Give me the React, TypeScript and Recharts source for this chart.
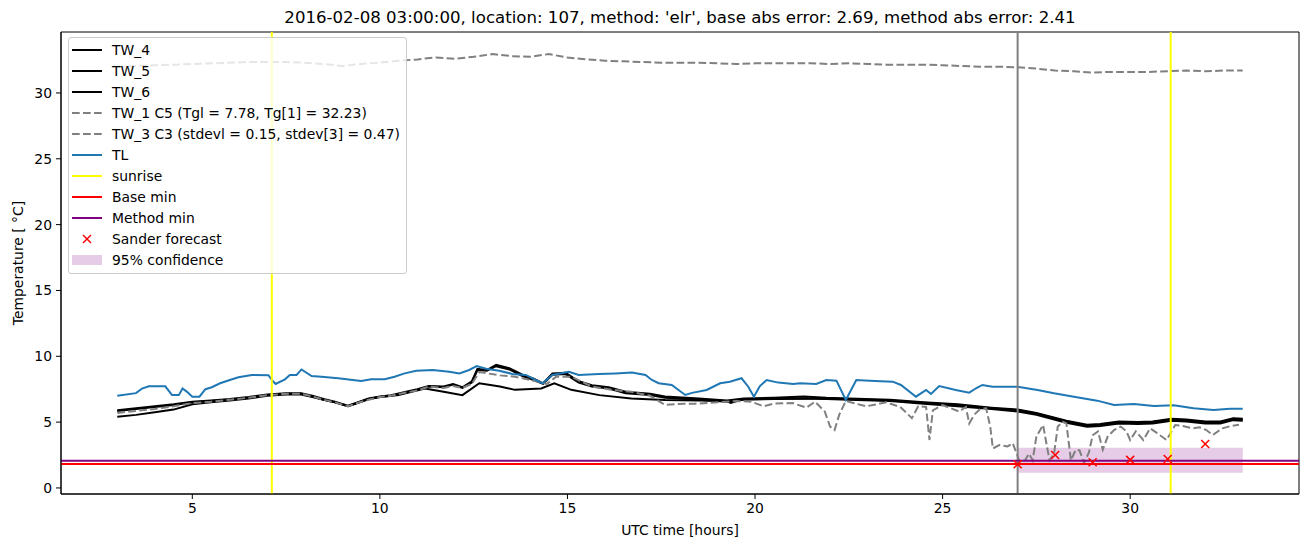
import React from "react";
import {
    ComposedChart, Line, Scatter, XAxis, YAxis,
    ReferenceLine, ReferenceArea, Legend, Label
} from "recharts";

type P = [number, number];

// [hour, temperature]
const tw4: P[] = [
    [3.0, 5.9], [3.5, 6.05], [4.0, 6.2], [4.5, 6.35], [5.0, 6.55], [5.5, 6.65], [6.0, 6.75], [6.5, 6.9],
    [7.0, 7.1], [7.5, 7.2], [7.9, 7.2], [8.2, 7.0], [8.5, 6.75], [8.8, 6.55], [9.15, 6.25], [9.4, 6.5],
    [9.7, 6.8], [10.0, 6.95], [10.3, 7.05], [10.7, 7.3], [11.0, 7.5], [11.3, 7.75], [11.7, 7.7], [11.95, 7.9],
    [12.2, 7.65], [12.45, 8.1], [12.6, 9.05], [12.85, 8.95], [13.1, 9.35], [13.45, 9.1], [13.8, 8.6], [14.1, 8.3],
    [14.35, 7.95], [14.6, 8.7], [14.95, 8.75], [15.3, 8.1], [15.65, 7.8], [16.1, 7.65], [16.55, 7.3], [17.2, 7.15],
    [17.6, 6.95], [18.5, 6.8], [19.25, 6.65], [19.7, 6.8], [20.5, 6.85], [21.3, 6.95], [21.9, 6.85], [22.5, 6.8],
    [23.6, 6.7], [24.5, 6.5], [25.4, 6.35], [26.3, 6.1], [27.0, 5.95], [27.5, 5.7], [28.3, 5.1], [28.85, 4.8],
    [29.2, 4.85], [29.7, 5.05], [30.2, 5.0], [30.6, 5.05], [31.1, 5.25], [31.5, 5.2], [32.0, 5.05], [32.4, 5.05],
    [32.75, 5.3], [33.0, 5.25],
];

const tw5: P[] = [
    [3.0, 5.85], [3.5, 6.0], [4.0, 6.15], [4.5, 6.3], [5.0, 6.5], [5.5, 6.6], [6.0, 6.7], [6.5, 6.85],
    [7.0, 7.05], [7.5, 7.15], [7.9, 7.15], [8.2, 6.95], [8.5, 6.7], [8.8, 6.5], [9.15, 6.2], [9.4, 6.45],
    [9.7, 6.75], [10.0, 6.9], [10.3, 7.0], [10.7, 7.25], [11.0, 7.45], [11.3, 7.7], [11.7, 7.65], [11.95, 7.85],
    [12.2, 7.6], [12.45, 8.0], [12.6, 8.95], [12.85, 8.9], [13.1, 9.25], [13.45, 9.0], [13.8, 8.5], [14.1, 8.2],
    [14.35, 7.9], [14.6, 8.6], [14.95, 8.65], [15.3, 8.0], [15.65, 7.7], [16.1, 7.55], [16.55, 7.2], [17.2, 7.05],
    [17.6, 6.85], [18.5, 6.7], [19.25, 6.55], [19.7, 6.7], [20.5, 6.75], [21.3, 6.8], [21.9, 6.75], [22.5, 6.7],
    [23.6, 6.6], [24.5, 6.4], [25.4, 6.2], [26.3, 6.0], [27.0, 5.8], [27.5, 5.55], [28.3, 4.95], [28.85, 4.65],
    [29.2, 4.7], [29.7, 4.9], [30.2, 4.85], [30.6, 4.9], [31.1, 5.1], [31.5, 5.05], [32.0, 4.9], [32.4, 4.9],
    [32.75, 5.15], [33.0, 5.1],
];

const tw6: P[] = [
    [3.0, 5.4], [3.5, 5.55], [4.0, 5.75], [4.5, 5.95], [5.0, 6.35], [5.5, 6.5], [6.0, 6.65], [6.5, 6.8],
    [7.0, 7.0], [7.5, 7.1], [7.9, 7.1], [8.2, 6.9], [8.5, 6.7], [8.8, 6.5], [9.15, 6.2], [9.4, 6.45],
    [9.7, 6.75], [10.0, 6.9], [10.5, 7.05], [11.2, 7.55], [11.7, 7.3], [12.2, 7.05], [12.65, 7.95], [13.2, 7.7],
    [13.6, 7.45], [14.3, 7.55], [14.65, 7.95], [15.1, 7.45], [15.85, 7.05], [16.7, 6.8], [17.6, 6.68], [18.5, 6.65],
    [19.25, 6.6], [19.35, 6.45], [19.7, 6.75], [20.5, 6.75], [21.3, 6.8], [21.9, 6.8], [22.5, 6.75], [23.6, 6.65],
    [24.5, 6.45], [25.4, 6.3], [26.3, 6.05], [27.0, 5.9], [27.5, 5.65], [28.3, 5.05], [28.85, 4.75], [29.2, 4.8],
    [29.7, 5.0], [30.2, 4.95], [30.6, 5.0], [31.1, 5.2], [31.5, 5.15], [32.0, 5.0], [32.4, 5.0], [32.75, 5.25],
    [33.0, 5.2],
];

const tw1: P[] = [
    [3.0, 32.0], [3.5, 32.05], [4.0, 32.1], [4.5, 32.15], [5.0, 32.2], [5.5, 32.25], [6.0, 32.3], [6.5, 32.35],
    [7.0, 32.35], [7.5, 32.35], [8.0, 32.3], [8.5, 32.2], [9.0, 32.05], [9.5, 32.2], [10.0, 32.3], [10.5, 32.45],
    [11.0, 32.55], [11.5, 32.7], [12.0, 32.6], [12.5, 32.75], [13.0, 32.95], [13.5, 32.8], [14.0, 32.75], [14.5, 32.95],
    [15.0, 32.7], [15.5, 32.55], [16.0, 32.45], [16.5, 32.4], [17.0, 32.35], [17.5, 32.3], [18.0, 32.3], [18.5, 32.3],
    [19.0, 32.25], [19.5, 32.2], [20.0, 32.25], [20.5, 32.25], [21.0, 32.25], [21.5, 32.25], [22.0, 32.2], [22.5, 32.25],
    [23.0, 32.2], [23.5, 32.15], [24.0, 32.15], [24.5, 32.15], [25.0, 32.1], [25.5, 32.05], [26.0, 32.0], [26.5, 32.0],
    [27.0, 31.95], [27.5, 31.85], [28.0, 31.7], [28.5, 31.65], [29.0, 31.55], [29.5, 31.6], [30.0, 31.6], [30.5, 31.6],
    [31.0, 31.65], [31.5, 31.7], [32.0, 31.65], [32.5, 31.7], [33.0, 31.7],
];

const tw3: P[] = [
    [3.0, 5.7], [3.5, 5.85], [4.0, 6.0], [4.5, 6.2], [5.0, 6.45], [5.5, 6.55], [6.0, 6.7], [6.5, 6.85],
    [7.0, 7.05], [7.5, 7.15], [7.9, 7.15], [8.2, 6.95], [8.5, 6.7], [8.8, 6.5], [9.15, 6.2], [9.4, 6.45],
    [9.7, 6.7], [10.0, 6.9], [10.3, 7.0], [10.7, 7.25], [11.0, 7.4], [11.3, 7.7], [11.7, 7.6], [11.95, 7.75],
    [12.2, 7.6], [12.45, 7.9], [12.65, 8.8], [13.2, 8.55], [13.6, 8.45], [14.25, 8.05], [14.45, 7.9], [14.7, 8.45],
    [15.1, 8.45], [15.65, 7.7], [16.2, 7.45], [16.7, 7.3], [17.2, 7.0], [17.6, 6.3], [18.1, 6.4], [18.4, 6.4],
    [19.0, 6.5], [19.5, 6.6], [19.9, 6.55], [20.22, 6.2], [20.5, 6.4], [21.0, 6.45], [21.37, 6.1], [21.6, 6.55],
    [21.86, 5.8], [22.0, 4.66], [22.12, 4.4], [22.25, 5.6], [22.42, 6.6], [22.96, 6.2], [23.5, 6.5], [23.87, 6.15],
    [24.0, 5.8], [24.18, 5.3], [24.35, 6.2], [24.56, 6.15], [24.65, 3.64], [24.74, 5.9], [25.0, 6.3], [25.44, 5.8],
    [25.62, 6.15], [25.71, 4.9], [25.84, 5.55], [26.0, 6.0], [26.16, 6.05], [26.27, 4.66], [26.34, 3.0], [26.51, 3.25],
    [26.73, 3.15], [26.87, 3.4], [27.04, 2.1], [27.2, 2.1], [27.3, 2.6], [27.4, 2.1], [27.5, 3.9], [27.68, 4.78],
    [27.75, 3.64], [27.85, 2.1], [27.97, 2.6], [28.07, 4.66], [28.2, 5.03], [28.3, 4.9], [28.42, 2.1], [28.55, 2.9],
    [28.65, 2.85], [28.77, 1.9], [28.9, 2.7], [29.0, 4.0], [29.14, 4.3], [29.27, 2.9], [29.4, 3.9], [29.57, 4.4],
    [29.75, 4.66], [29.9, 4.3], [30.0, 3.64], [30.15, 4.3], [30.35, 3.64], [30.53, 4.53], [30.7, 4.2], [30.97, 3.64],
    [31.2, 4.78], [31.4, 4.7], [31.68, 4.53], [31.85, 4.6], [32.03, 4.4], [32.2, 4.02], [32.46, 4.53], [32.68, 4.7],
    [32.9, 4.8],
];

const tl: P[] = [
    [3.0, 7.0], [3.5, 7.2], [3.66, 7.55], [3.84, 7.72], [4.28, 7.72], [4.46, 7.05], [4.64, 7.05], [4.74, 7.55],
    [4.86, 7.3], [5.0, 6.93], [5.19, 6.93], [5.35, 7.5], [5.52, 7.65], [5.74, 7.95], [6.0, 8.2], [6.23, 8.4],
    [6.59, 8.58], [7.03, 8.56], [7.12, 8.2], [7.22, 7.9], [7.47, 8.25], [7.6, 8.58], [7.78, 8.58], [7.91, 9.0],
    [8.18, 8.5], [8.44, 8.45], [8.89, 8.33], [9.5, 8.12], [9.77, 8.25], [10.13, 8.25], [10.39, 8.45], [10.66, 8.7],
    [10.97, 8.9], [11.41, 8.96], [11.85, 8.83], [12.12, 8.7], [12.38, 8.96], [12.58, 9.26], [12.83, 9.06], [13.18, 8.9],
    [13.53, 8.66], [13.89, 8.58], [14.15, 8.2], [14.33, 7.95], [14.6, 8.58], [15.04, 8.83], [15.3, 8.58], [15.84, 8.66],
    [16.28, 8.7], [16.72, 8.76], [17.08, 8.58], [17.25, 8.2], [17.43, 7.95], [17.78, 7.82], [18.14, 7.06], [18.32, 7.22],
    [18.71, 7.44], [19.07, 7.95], [19.33, 8.07], [19.64, 8.33], [19.82, 7.69], [19.97, 6.93], [20.13, 7.74], [20.31, 8.2],
    [20.62, 8.0], [21.02, 7.9], [21.2, 7.95], [21.63, 7.9], [21.9, 8.2], [22.17, 8.15], [22.42, 6.68], [22.7, 8.2],
    [23.05, 8.15], [23.67, 8.07], [23.89, 7.82], [24.29, 6.93], [24.56, 7.44], [24.69, 7.14], [24.91, 7.74], [25.35, 7.44],
    [25.71, 7.24], [25.89, 7.57], [26.06, 7.82], [26.33, 7.69], [27.0, 7.69], [27.53, 7.44], [27.97, 7.19], [28.5, 6.93],
    [29.12, 6.63], [29.57, 6.3], [30.1, 6.38], [30.63, 6.22], [31.16, 6.28], [31.69, 6.05], [32.22, 5.92], [32.66, 6.02],
    [33.0, 6.02],
];

const sander: P[] = [[27, 1.8], [28, 2.5], [29, 1.95], [30, 2.13], [31, 2.2], [32, 3.34]];

const sunrises = [7.12, 31.08];
const forecastStart = 27;
const baseMin = 1.82;
const methodMin = 2.07;
const confidence = { from: 27, to: 33, low: 1.16, high: 3.06 };

const xDomain: [number, number] = [1.5, 34.5];
const yDomain: [number, number] = [-0.46, 34.63];
const xTicks = [5, 10, 15, 20, 25, 30];
const yTicks = [0, 5, 10, 15, 20, 25, 30];

const title = "2016-02-08 03:00:00, location: 107, method: 'elr', base abs error: 2.69, method abs error: 2.41";

const FONT = "'DejaVu Sans', sans-serif";
const DASH = "7.7 3.3";

const rows = (pts: P[]) => pts.map(([t, v]) => ({ t, v }));

const legendItems = [
    { name: "TW_4", kind: "line", color: "#000000" },
    { name: "TW_5", kind: "line", color: "#000000" },
    { name: "TW_6", kind: "line", color: "#000000" },
    { name: "TW_1 C5 (Tgl = 7.78, Tg[1] = 32.23)", kind: "dash", color: "#808080" },
    { name: "TW_3 C3 (stdevl = 0.15, stdev[3] = 0.47)", kind: "dash", color: "#808080" },
    { name: "TL", kind: "line", color: "#1f77b4" },
    { name: "sunrise", kind: "line", color: "#ffff00" },
    { name: "Base min", kind: "line", color: "#ff0000" },
    { name: "Method min", kind: "line", color: "#800080" },
    { name: "Sander forecast", kind: "cross", color: "#ff0000" },
    { name: "95% confidence", kind: "patch", color: "#e6cce6" },
];

const Cross = (props: any) => {
    const { cx, cy } = props;
    const r = 4;
    return (
        <g stroke="#ff0000" strokeWidth={1.5}>
            <line x1={cx - r} y1={cy - r} x2={cx + r} y2={cy + r} />
            <line x1={cx - r} y1={cy + r} x2={cx + r} y2={cy - r} />
        </g>
    );
};

const renderLegend = () => (
    <div style={{
        background: "rgba(255,255,255,0.8)", border: "1px solid #cccccc", borderRadius: 3,
        padding: "1px 6px 2px 3px", fontFamily: FONT, fontSize: 13.9, color: "#000",
    }}>
        {legendItems.map((it) => (
            <div key={it.name} style={{ display: "flex", alignItems: "center", height: 21.1 }}>
                <svg width={30} height={14} style={{ marginRight: 10 }}>
                    {it.kind === "line" && <line x1={0} y1={7} x2={30} y2={7} stroke={it.color} strokeWidth={2} />}
                    {it.kind === "dash" && <line x1={0} y1={7} x2={30} y2={7} stroke={it.color} strokeWidth={2} strokeDasharray={DASH} />}
                    {it.kind === "cross" && <Cross cx={15} cy={7} />}
                    {it.kind === "patch" && <rect x={0} y={2} width={30} height={10} fill={it.color} />}
                </svg>
                <span style={{ whiteSpace: "nowrap" }}>{it.name}</span>
            </div>
        ))}
    </div>
);

const tickStyle = { fontFamily: FONT, fontSize: 13.9, fill: "#000" };

export default function App() {
    return (
        <div style={{ position: "absolute", left: 0, top: 0, width: 1310, height: 547, background: "#fff" }}>
            <div style={{
                position: "absolute", left: 61, top: 8, width: 1238, textAlign: "center",
                fontFamily: FONT, fontSize: 16.6, lineHeight: "20px", color: "#000", whiteSpace: "nowrap",
            }}>{title}</div>
            <ComposedChart width={1310} height={547} margin={{ top: 32, right: 11, bottom: 0, left: 0 }}>
                <XAxis dataKey="t" type="number" domain={xDomain} ticks={xTicks} allowDataOverflow
                    height={53} tickSize={5} tickMargin={4} tick={tickStyle}
                    stroke="#000" tickLine={{ stroke: "#000" }} axisLine={{ stroke: "#000" }}>
                    <Label value="UTC time [hours]" position="insideBottom" offset={12}
                        style={{ fontFamily: FONT, fontSize: 13.9, fill: "#000" }} />
                </XAxis>
                <YAxis type="number" domain={yDomain} ticks={yTicks} allowDataOverflow
                    width={61} tickSize={5} tickMargin={4} tick={tickStyle}
                    stroke="#000" tickLine={{ stroke: "#000" }} axisLine={{ stroke: "#000" }}>
                    <Label value="Temperature [ °C]" angle={-90} position="insideLeft" offset={18}
                        style={{ fontFamily: FONT, fontSize: 13.9, fill: "#000", textAnchor: "middle" }} />
                </YAxis>

                <ReferenceArea x1={confidence.from} x2={confidence.to} y1={confidence.low} y2={confidence.high}
                    fill="#800080" fillOpacity={0.2} stroke="none" />

                <Line data={rows(tw4)} dataKey="v" name="TW_4" stroke="#000" strokeWidth={2} dot={false} isAnimationActive={false} />
                <Line data={rows(tw5)} dataKey="v" name="TW_5" stroke="#000" strokeWidth={2} dot={false} isAnimationActive={false} />
                <Line data={rows(tw6)} dataKey="v" name="TW_6" stroke="#000" strokeWidth={2} dot={false} isAnimationActive={false} />
                <Line data={rows(tw1)} dataKey="v" name="TW_1" stroke="#808080" strokeWidth={2} strokeDasharray={DASH} dot={false} isAnimationActive={false} />
                <Line data={rows(tw3)} dataKey="v" name="TW_3" stroke="#808080" strokeWidth={2} strokeDasharray={DASH} dot={false} isAnimationActive={false} />
                <Line data={rows(tl)} dataKey="v" name="TL" stroke="#1f77b4" strokeWidth={2} dot={false} isAnimationActive={false} />

                {sunrises.map((s) => (
                    <ReferenceLine key={s} x={s} stroke="#ffff00" strokeWidth={2} />
                ))}
                <ReferenceLine x={forecastStart} stroke="#808080" strokeWidth={2} />
                <ReferenceLine y={baseMin} stroke="#ff0000" strokeWidth={2} />
                <ReferenceLine y={methodMin} stroke="#800080" strokeWidth={2} />

                <Scatter data={rows(sander)} dataKey="v" name="Sander forecast" shape={<Cross />} isAnimationActive={false} />

                {/* axes frame */}
                <ReferenceArea x1={xDomain[0]} x2={xDomain[1]} y1={yDomain[0]} y2={yDomain[1]}
                    fill="none" stroke="#000" strokeWidth={1} ifOverflow="visible" />

                <Legend content={renderLegend} layout="horizontal" verticalAlign="middle" align="center"
                    wrapperStyle={{ left: 68, top: 37, width: "auto" }} />
            </ComposedChart>
        </div>
    );
}
